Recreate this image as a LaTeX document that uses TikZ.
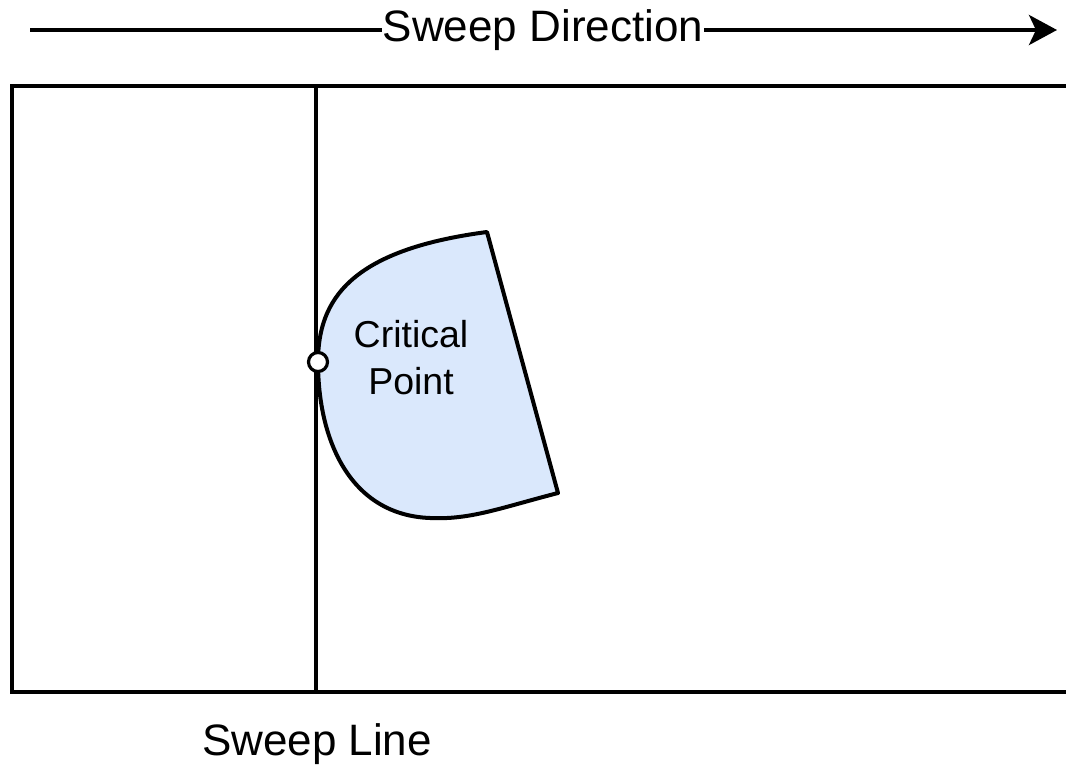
\documentclass[tikz,border=0pt]{standalone}
\usepackage{fontspec}
\setmainfont{Liberation Sans}
\usetikzlibrary{arrows.meta}
\definecolor{shapefill}{HTML}{DAE8FC}
\tikzset{
  frame/.style={line width=4pt},
  sweepline/.style={line width=3.8pt},
  regionshape/.style={line width=4pt, fill=shapefill, line join=round},
  critdot/.style={circle, draw, line width=3.2pt, fill=white, minimum size=19pt, inner sep=0pt},
  bigtext/.style={font=\fontsize{44}{50}\selectfont, inner sep=1pt},
  midtext/.style={font=\fontsize{37.5}{47}\selectfont, align=center, inner sep=0pt},
  dirarrow/.style={line width=4pt, -{Stealth[length=28pt, width=30pt, inset=7pt]}}
}
\begin{document}
\begin{tikzpicture}[x=1pt, y=-1pt]
\useasboundingbox (0,0) rectangle (1066,767);
\clip (0,0) rectangle (1066,767);
% frame (runs off the right edge)
\draw[frame] (1090,86) -- (12,86) -- (12,692) -- (1090,692);
% region
\draw[regionshape] (318,362) .. controls (318,300) and (350,250) .. (487,232)
  -- (558,493)
  .. controls (500,508) and (470,520) .. (430,518)
  .. controls (350,515) and (318,440) .. cycle;
% sweep line
\coordinate (sltop) at (316,86);
\coordinate (slbot) at (316,692);
\draw[sweepline] (sltop) -- (slbot);
\node[critdot] (crit) at (318,362) {};
\node[midtext] (lab) at (411,358) {Critical\\Point};
% sweep direction arrow
\node[bigtext, anchor=base] (dir) at (543,42) {Sweep Direction};
\coordinate (astart) at (30,30);
\coordinate (aend) at (1057,30);
\draw[line width=4pt] (astart) -- (dir.west |- astart);
\draw[dirarrow] (dir.east |- aend) -- (aend);
% sweep line label
\node[bigtext, anchor=base] (sll) at (317,755) {Sweep Line};
\end{tikzpicture}
\end{document}
